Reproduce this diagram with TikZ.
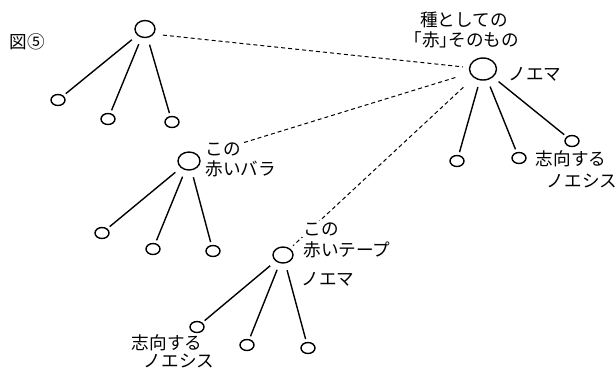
\documentclass[tikz,border=0pt]{standalone}
\usepackage{fontspec}
\setmainfont{Noto Sans CJK JP}
\usetikzlibrary{shapes.geometric}
\newcommand{\jp}{\fontsize{8.8}{10}\selectfont}
\newcommand{\pb}[1]{{\addfontfeatures{RawFeature=+palt}#1}}

\begin{document}
\begin{tikzpicture}[x=0.5pt,y=-0.5pt,
    big/.style={ellipse,draw,line width=0.7pt,inner sep=0pt,minimum width=10pt,minimum height=8.5pt},
    leaf/.style={ellipse,draw,line width=0.7pt,inner sep=0pt,minimum width=7pt,minimum height=5.5pt},
    edge/.style={line width=0.7pt,shorten <=3.5pt,shorten >=1.5pt},
    link/.style={line width=0.5pt,dash pattern=on 2pt off 1.5pt},
    lbl/.style={inner sep=0.5pt,font=\jp}]
    \useasboundingbox (0,0) rectangle (616,372);
    \node[lbl] (fig) at (27,42) {図⑤};
    % upper left tree
    \node[big] (tlp) at (145,29) {};
    \node[leaf] (tl1) at (58,100) {};
    \node[leaf] (tl2) at (108,119) {};
    \node[leaf] (tl3) at (172,122) {};
    \foreach \c in {tl1,tl2,tl3} \draw[edge] (tlp) -- (\c);
    % right tree
    \node[big,minimum width=13.5pt,minimum height=11pt] (rp) at (483,69) {};
    \node[leaf] (r1) at (457,161) {};
    \node[leaf] (r2) at (519,158) {};
    \node[leaf] (r3) at (572,141) {};
    \foreach \c in {r1,r2,r3} \draw[edge] (rp) -- (\c);
    \node[lbl] (rtop) at (464,20) {種としての};
    \node[lbl] (rred) at (466,40) {\pb{「}赤\pb{」}そのもの};
    \node[lbl] (rnoema) at (535,74) {ノエマ};
    \node[lbl] (rint) at (571,159) {志向する};
    \node[lbl] (rnoesis) at (582,181) {ノエシス};
    % middle tree
    \node[big,minimum width=11pt,minimum height=9pt] (mp) at (189,161) {};
    \node[leaf] (m1) at (102,233) {};
    \node[leaf] (m2) at (153,249) {};
    \node[leaf] (m3) at (213,251) {};
    \foreach \c in {m1,m2,m3} \draw[edge] (mp) -- (\c);
    \node[lbl,anchor=west] (mthis) at (204,149) {この};
    \node[lbl,anchor=west] (mrose) at (204,169) {赤いバラ};
    % lower tree
    \node[big,minimum height=8pt] (bp) at (283,255) {};
    \node[leaf] (b1) at (197,327) {};
    \node[leaf] (b2) at (247,345) {};
    \node[leaf] (b3) at (308,348) {};
    \foreach \c in {b1,b2,b3} \draw[edge] (bp) -- (\c);
    % dashed links
    \draw[link,shorten <=4.5pt,shorten >=3pt] (tlp.-30) -- (rp);
    \draw[link,shorten <=7.5pt] (rp) -- (mthis);
    \draw[link,shorten <=7pt,shorten >=2pt] (rp) -- (bp);
    \node[lbl,anchor=west,fill=white] (bthis) at (302,229) {この};
    \node[lbl,anchor=west] (btape) at (302,250) {赤いテープ};
    \node[lbl,anchor=west] (bnoema) at (300,279) {ノエマ};
    \node[lbl] (bint) at (167,343) {志向する};
    \node[lbl] (bnoesis) at (179,361) {ノエシス};
\end{tikzpicture}
\end{document}
